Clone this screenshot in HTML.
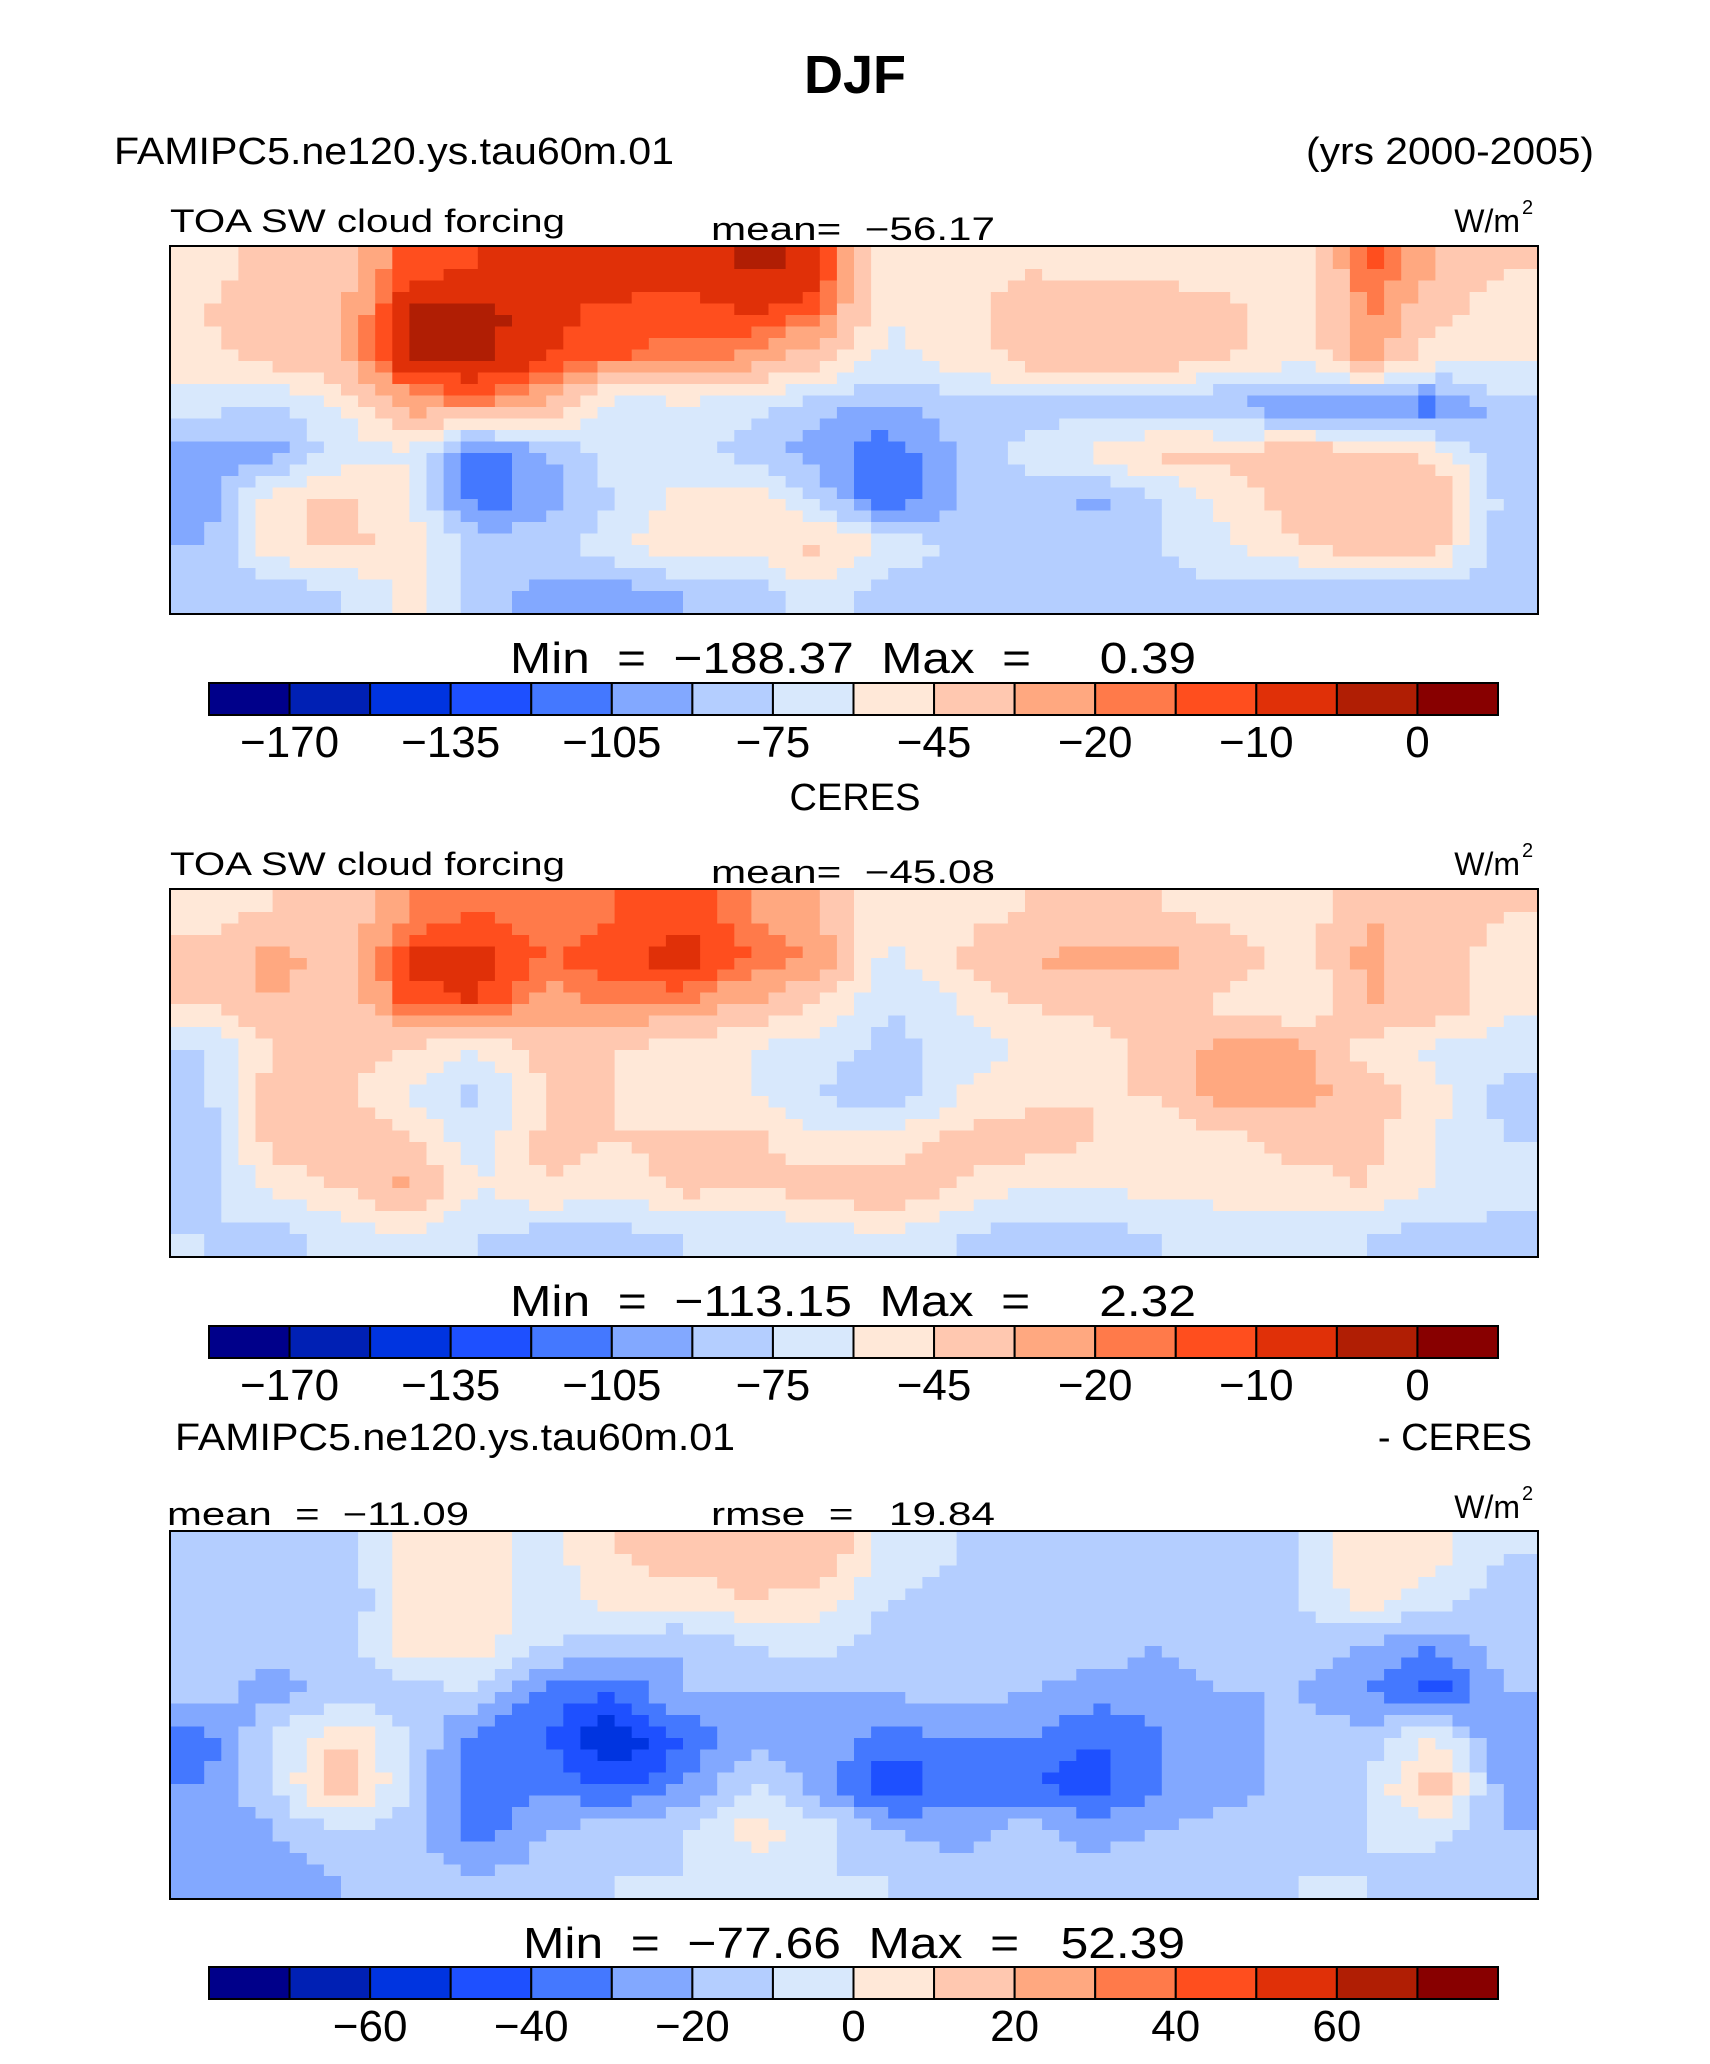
<!DOCTYPE html>
<html><head><meta charset="utf-8">
<style>
html,body{margin:0;padding:0;background:#fff;}
svg{display:block;}
text{font-family:"Liberation Sans",sans-serif;fill:#000;white-space:pre;}
</style></head>
<body>
<svg id="page" width="1710" height="2064" viewBox="0 0 1710 2064" xmlns="http://www.w3.org/2000/svg" xml:space="preserve">
<rect x="0" y="0" width="1710" height="2064" fill="#fff"/>
<text x="855" y="93" text-anchor="middle" font-size="54" font-weight="bold">DJF</text>
<text x="114" y="164" font-size="38" textLength="560" lengthAdjust="spacingAndGlyphs">FAMIPC5.ne120.ys.tau60m.01</text>
<text x="1594" y="164" font-size="38" text-anchor="end" textLength="288" lengthAdjust="spacingAndGlyphs">(yrs 2000-2005)</text>
<g id="panels"></g>
</svg>
<script>
// ---- data (W/m2), 8 latitude rows x 20 longitude columns ----
const modelField = [
[-50,-40,-35,-12,-10,-8,-6,-8,-4,-6,-60,-50,-45,-48,-50,-55,-60,-12,-30,-45],
[-45,-35,-30,-3,-3,-8,-12,-12,-10,-14,-60,-50,-40,-35,-35,-40,-55,-18,-40,-55],
[-50,-40,-30,-3,-3,-10,-15,-18,-22,-40,-65,-55,-40,-30,-35,-45,-60,-25,-55,-60],
[-70,-80,-60,-25,-20,-30,-70,-65,-70,-85,-95,-80,-80,-85,-90,-95,-100,-105,-115,-80],
[-100,-95,-70,-60,-115,-90,-65,-70,-80,-100,-115,-90,-70,-55,-40,-40,-35,-40,-50,-90],
[-105,-50,-40,-60,-115,-100,-75,-55,-50,-80,-120,-90,-85,-95,-75,-55,-35,-30,-30,-80],
[-90,-50,-40,-50,-80,-80,-65,-45,-50,-40,-60,-80,-80,-80,-75,-60,-45,-35,-40,-85],
[-90,-85,-75,-55,-85,-95,-95,-90,-85,-60,-85,-90,-85,-90,-80,-80,-85,-85,-80,-90]];
const ceresField = [
[-50,-45,-40,-20,-15,-20,-15,-12,-20,-30,-55,-50,-45,-45,-45,-50,-55,-30,-35,-45],
[-40,-25,-35,-8,-8,-15,-12,-6,-15,-20,-65,-45,-30,-25,-25,-35,-55,-25,-40,-50],
[-45,-30,-40,-12,-10,-25,-18,-20,-30,-45,-75,-60,-45,-40,-40,-50,-60,-30,-30,-55],
[-75,-45,-40,-45,-60,-35,-45,-55,-60,-70,-80,-70,-60,-55,-35,-25,-25,-50,-65,-70],
[-80,-35,-40,-60,-80,-45,-45,-55,-60,-75,-85,-60,-50,-45,-45,-20,-25,-35,-55,-80],
[-85,-40,-30,-40,-70,-40,-45,-40,-40,-55,-55,-40,-35,-45,-55,-50,-40,-40,-60,-75],
[-80,-55,-45,-25,-60,-45,-55,-40,-45,-35,-30,-45,-60,-60,-55,-50,-50,-45,-60,-70],
[-75,-80,-70,-60,-75,-80,-80,-75,-75,-70,-60,-75,-80,-80,-75,-75,-70,-75,-80,-80]];
const diffField = [
[-15,-10,-15,5,5,-5,10,15,15,20,-5,-10,-15,-10,-15,-15,-10,10,5,-10],
[-15,-10,-20,5,5,-5,5,5,10,5,-10,-15,-15,-10,-15,-10,-10,5,-5,-15],
[-15,-15,-15,5,5,-10,-15,-20,-10,-5,-15,-15,-10,-15,-20,-15,-15,-20,-30,-15],
[-15,-25,-15,-15,-10,-35,-40,-20,-20,-20,-20,-15,-20,-25,-25,-20,-20,-30,-45,-20],
[-35,-10,10,-10,-35,-40,-60,-40,-25,-20,-35,-30,-30,-40,-30,-25,-15,-15,0,-30],
[-30,-10,20,-10,-40,-30,-45,-30,-10,-25,-50,-35,-40,-45,-30,-25,-15,-10,20,-25],
[-30,-20,-10,-15,-35,-20,-15,-10,5,-5,-20,-25,-15,-25,-20,-15,-15,-10,-5,-20],
[-25,-25,-20,-15,-20,-15,-10,-10,-5,-10,-10,-15,-20,-15,-10,-15,-10,-10,-15,-20]];
const levelsAbs = [-185,-170,-150,-135,-120,-105,-90,-75,-60,-45,-30,-20,-15,-10,-5,0];
const tickLabelsAbs = ["\u2212170","\u2212135","\u2212105","\u221275","\u221245","\u221220","\u221210","0"];
const levelsDiff = [-80,-70,-60,-50,-40,-30,-20,-10,0,10,20,30,40,50,60,70];
const tickLabelsDiff = ["\u221260","\u221240","\u221220","0","20","40","60"];
const statsTexts = ["Min  =  \u2212188.37  Max  =     0.39","Min  =  \u2212113.15  Max  =     2.32","Min  =  \u221277.66  Max  =   52.39"];
const colors = ["#00008a","#0020b4","#0034e0","#1e50ff","#4478ff","#82a8ff","#b4ceff","#d8e8fc","#ffe8d8","#ffc8b0","#ffa880","#ff7a4a","#ff4e1e","#e03008","#b01e04","#880000"];

const NS="http://www.w3.org/2000/svg";
const root=document.getElementById('panels');
function mk(tag,attrs,parent){const e=document.createElementNS(NS,tag);for(const k in attrs)e.setAttribute(k,attrs[k]);(parent||root).appendChild(e);return e;}
function classify(v,levels){let i=0;for(let k=1;k<levels.length;k++){if(v>=levels[k])i=k;}return i;}
function sample(f,fx,fy){const R=f.length,C=f[0].length;let x=Math.max(0,Math.min(C-1,fx)),y=Math.max(0,Math.min(R-1,fy));const x0=Math.floor(x),y0=Math.floor(y),x1=Math.min(C-1,x0+1),y1=Math.min(R-1,y0+1),tx=x-x0,ty=y-y0;return (f[y0][x0]*(1-tx)+f[y0][x1]*tx)*(1-ty)+(f[y1][x0]*(1-tx)+f[y1][x1]*tx)*ty;}
function txt(s,x,y,size,anchor,name,len){const t=mk('text',{x:x,y:y,'font-size':size,'text-anchor':anchor||'start'});if(len){t.setAttribute('textLength',len);t.setAttribute('lengthAdjust','spacingAndGlyphs');}t.textContent=s;


return t;}

function drawMap(field,levels,y0,name){
  const X=170,W=1368,H=368,R=field.length,C=field[0].length,sub=4;
  const g=mk('g',{});
  
  
  const nx=C*sub,ny=R*sub,cw=W/nx,ch=H/ny;
  for(let j=0;j<ny;j++)for(let i=0;i<nx;i++){
    const v=sample(field,(i+0.5)/sub-0.5,(j+0.5)/sub-0.5);
    const r=mk('rect',{x:(X+i*cw).toFixed(2),y:(y0+j*ch).toFixed(2),width:(cw+0.6).toFixed(2),height:(ch+0.6).toFixed(2),fill:colors[classify(v,levels)]},g);
    
    
  }
  const b=mk('rect',{x:X,y:y0,width:W,height:H,fill:'none',stroke:'#000','stroke-width':2});
  
  
}
function drawBar(y0,labels,firstIdx,step,name,stats,statsY,tickY,statsX,statsLen){
  const X=209,W=1289,H=32,n=16,bw=W/n;
  const g=mk('g',{});
  
  
  for(let k=0;k<n;k++){const r=mk('rect',{x:X+k*bw,y:y0,width:bw,height:H,fill:colors[k],stroke:'#000','stroke-width':2},g);
    
    }
  labels.forEach((l,i)=>{txt(l,X+(firstIdx+i*step)*bw,tickY,44,'middle','colorbar-tick-label');});
  txt(stats,statsX,statsY,44,'start','min-max-label',statsLen);
}
// panel 1
txt("TOA SW cloud forcing",170,232,32,'start','panel1-variable',395);
txt("mean=  \u221256.17",711,240,32,'start','panel1-mean',284);
txt("W/m",1520,232,32,'end','panel1-units');
txt("2",1522,214,20,'start','panel1-units-sup');
drawMap(modelField,levelsAbs,246,'model-map');
drawBar(683,tickLabelsAbs,1,2,'colorbar-model',statsTexts[0],673,757,510,686);
txt("CERES",855,810,38,'middle','panel2-title');
// panel 2
txt("TOA SW cloud forcing",170,875,32,'start','panel2-variable',395);
txt("mean=  \u221245.08",711,883,32,'start','panel2-mean',284);
txt("W/m",1520,875,32,'end','panel2-units');
txt("2",1522,857,20,'start','panel2-units-sup');
drawMap(ceresField,levelsAbs,889,'ceres-map');
drawBar(1326,tickLabelsAbs,1,2,'colorbar-ceres',statsTexts[1],1316,1400,510,686);
// panel 3
txt("FAMIPC5.ne120.ys.tau60m.01",175,1450,38,'start','panel3-model-name',560);
txt("- CERES",1532,1450,38,'end','panel3-minus-ceres');
txt("mean  =  \u221211.09",167,1525,32,'start','panel3-mean',302);
txt("rmse  =   19.84",711,1525,32,'start','panel3-rmse',284);
txt("W/m",1520,1518,32,'end','panel3-units');
txt("2",1522,1500,20,'start','panel3-units-sup');
drawMap(diffField,levelsDiff,1531,'difference-map');
drawBar(1967,tickLabelsDiff,2,2,'colorbar-diff',statsTexts[2],1958,2041,523,662);
</script>
</body></html>
